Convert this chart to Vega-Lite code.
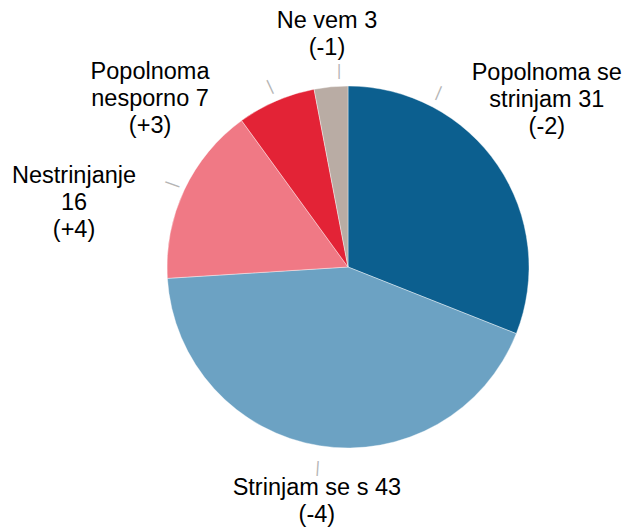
{
  "$schema": "https://vega.github.io/schema/vega-lite/v6.json",
  "width": 556,
  "height": 524,
  "autosize": {"type": "none"},
  "padding": {"left": 70, "top": 5, "right": 0, "bottom": 0},
  "background": "white",
  "view": {"stroke": null},
  "data": {
    "values": [
      {"cat": "Popolnoma se strinjam", "value": 31, "label": "Popolnoma se\nstrinjam 31\n(-2)"},
      {"cat": "Strinjam se s", "value": 43, "label": "Strinjam se s 43\n(-4)"},
      {"cat": "Nestrinjanje", "value": 16, "label": "Nestrinjanje\n16\n(+4)"},
      {"cat": "Popolnoma nesporno", "value": 7, "label": "Popolnoma\nnesporno 7\n(+3)"},
      {"cat": "Ne vem", "value": 3, "label": "Ne vem 3\n(-1)"}
    ]
  },
  "transform": [{"window": [{"op": "row_number", "as": "rn"}]}],
  "encoding": {
    "theta": {"field": "value", "type": "quantitative", "stack": true},
    "order": {"field": "rn", "type": "quantitative"},
    "detail": {"field": "cat", "type": "nominal"}
  },
  "layer": [
    {
      "mark": {"type": "arc", "outerRadius": 181, "stroke": "white", "strokeWidth": 0.4},
      "encoding": {
        "color": {
          "field": "cat",
          "type": "nominal",
          "legend": null,
          "scale": {
            "domain": ["Popolnoma se strinjam", "Strinjam se s", "Nestrinjanje", "Popolnoma nesporno", "Ne vem"],
            "range": ["#0c5f8f", "#6ca2c3", "#f07985", "#e32336", "#b9aca4"]
          }
        }
      }
    },
    {
      "mark": {"type": "text", "radius": 278, "thetaOffset": -0.177, "fontSize": 23.5, "font": "Liberation Sans", "lineBreak": "\n", "lineHeight": 27, "align": "center", "baseline": "middle", "color": "black"},
      "encoding": {"text": {"condition": {"test": "datum.cat === 'Popolnoma se strinjam'", "field": "label"}, "value": ""}}
    },
    {
      "mark": {"type": "text", "radius": 223, "thetaOffset": -0.017, "fontSize": 23.5, "font": "Liberation Sans", "lineBreak": "\n", "lineHeight": 27, "align": "center", "baseline": "middle", "color": "black"},
      "encoding": {"text": {"condition": {"test": "datum.cat === 'Strinjam se s'", "field": "label"}, "value": ""}}
    },
    {
      "mark": {"type": "text", "radius": 288.7, "thetaOffset": -0.119, "fontSize": 23.5, "font": "Liberation Sans", "lineBreak": "\n", "lineHeight": 27, "align": "center", "baseline": "middle", "color": "black"},
      "encoding": {"text": {"condition": {"test": "datum.cat === 'Nestrinjanje'", "field": "label"}, "value": ""}}
    },
    {
      "mark": {"type": "text", "radius": 278, "thetaOffset": -0.384, "fontSize": 23.5, "font": "Liberation Sans", "lineBreak": "\n", "lineHeight": 27, "align": "center", "baseline": "middle", "color": "black"},
      "encoding": {"text": {"condition": {"test": "datum.cat === 'Popolnoma nesporno'", "field": "label"}, "value": ""}}
    },
    {
      "mark": {"type": "text", "radius": 247, "thetaOffset": 0.009, "fontSize": 23.5, "font": "Liberation Sans", "lineBreak": "\n", "lineHeight": 27, "align": "center", "baseline": "middle", "color": "black"},
      "encoding": {"text": {"condition": {"test": "datum.cat === 'Ne vem'", "field": "label"}, "value": ""}}
    },
    {
      "mark": {"type": "text", "radius": 197, "thetaOffset": -0.494, "angle": 23, "fontSize": 16, "font": "Liberation Sans", "align": "center", "baseline": "middle", "color": "#b5b5b5"},
      "encoding": {"text": {"condition": {"test": "datum.cat === 'Popolnoma se strinjam'", "value": "|"}, "value": ""}}
    },
    {
      "mark": {"type": "text", "radius": 203, "thetaOffset": -0.007, "angle": 4, "fontSize": 16, "font": "Liberation Sans", "align": "center", "baseline": "middle", "color": "#b5b5b5"},
      "encoding": {"text": {"condition": {"test": "datum.cat === 'Strinjam se s'", "value": "|"}, "value": ""}}
    },
    {
      "mark": {"type": "text", "radius": 195, "thetaOffset": 0, "angle": 290, "fontSize": 16, "font": "Liberation Sans", "align": "center", "baseline": "middle", "color": "#b5b5b5"},
      "encoding": {"text": {"condition": {"test": "datum.cat === 'Nestrinjanje'", "value": "|"}, "value": ""}}
    },
    {
      "mark": {"type": "text", "radius": 197, "thetaOffset": 0, "angle": 335, "fontSize": 16, "font": "Liberation Sans", "align": "center", "baseline": "middle", "color": "#b5b5b5"},
      "encoding": {"text": {"condition": {"test": "datum.cat === 'Popolnoma nesporno'", "value": "|"}, "value": ""}}
    },
    {
      "mark": {"type": "text", "radius": 196, "thetaOffset": 0.049, "angle": 0, "fontSize": 16, "font": "Liberation Sans", "align": "center", "baseline": "middle", "color": "#b5b5b5"},
      "encoding": {"text": {"condition": {"test": "datum.cat === 'Ne vem'", "value": "|"}, "value": ""}}
    }
  ]
}
